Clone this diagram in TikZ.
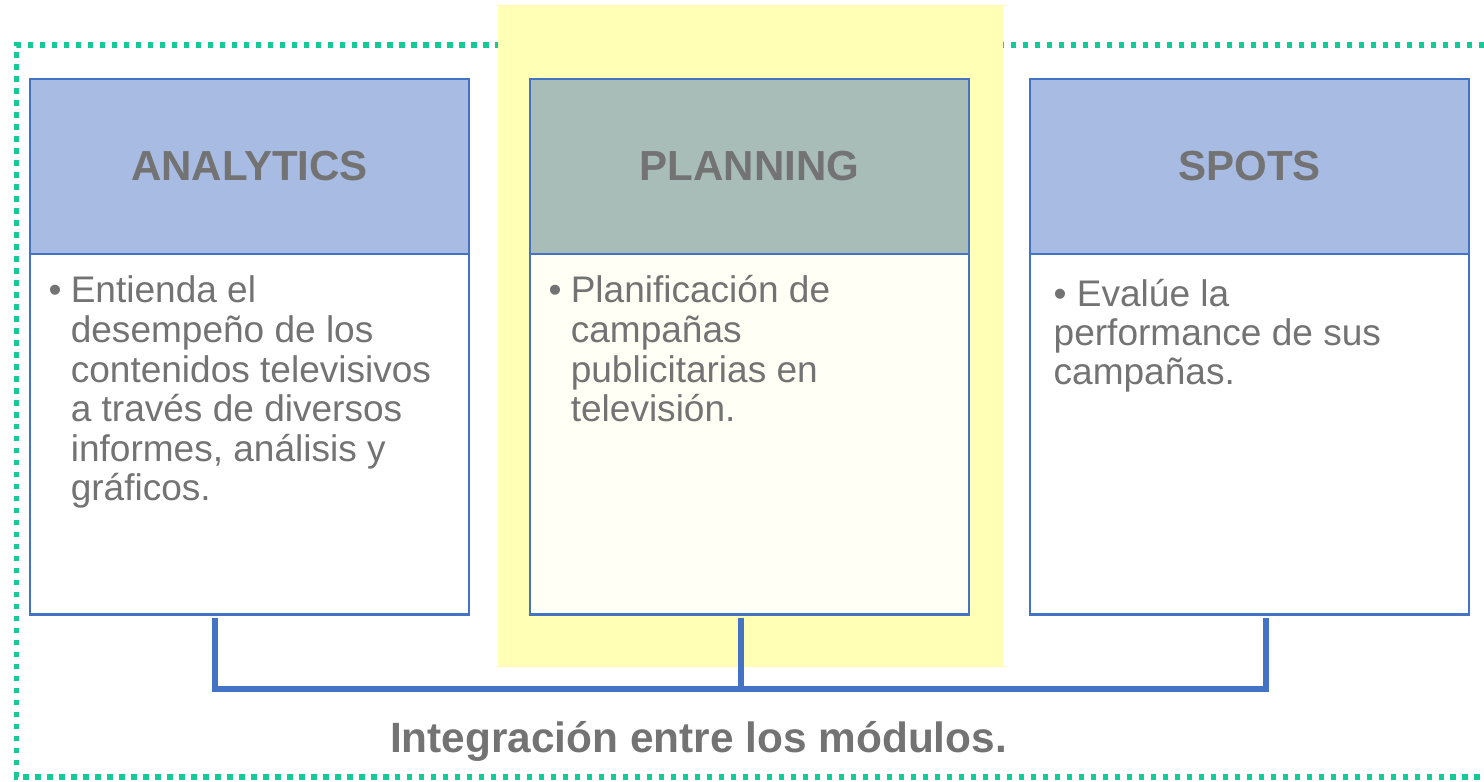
\documentclass[tikz,border=0pt]{standalone}
\usepackage{fontspec}
\setmainfont{Liberation Sans}
\usetikzlibrary{positioning}
\definecolor{hdrblue}{RGB}{168,187,226}
\definecolor{hdrgrey}{RGB}{168,188,184}
\definecolor{edgeblue}{RGB}{68,114,196}
\definecolor{dotgreen}{RGB}{22,201,151}
\definecolor{markyellow}{RGB}{255,255,181}
\definecolor{paleyellow}{RGB}{255,255,246}
\definecolor{txtgrey}{RGB}{115,115,115}
\begin{document}
\begin{tikzpicture}[x=0.01cm,y=-0.01cm,
    header/.style={draw=edgeblue, line width=0.75pt, fill=hdrblue, outer sep=0pt, inner sep=0pt,
      minimum width=4.39cm, minimum height=1.75cm, text=txtgrey,
      font=\fontsize{11.95pt}{14pt}\selectfont\bfseries},
    panel/.style={draw=edgeblue, line width=0.75pt, fill=white, outer sep=0pt, inner sep=0pt,
      minimum width=4.39cm, minimum height=3.6cm},
    bullets/.style={text=txtgrey, inner sep=0pt, anchor=base west,
      font=\fontsize{10.53pt}{11.24pt}\selectfont},
    bracket/.style={draw=edgeblue, line width=1.56pt}]
  \useasboundingbox (0,0) rectangle (1484,782);

  \draw[dotgreen, line width=1.5pt, dash pattern=on 1.5pt off 1.91pt]
    (1484,45) -- (16.5,45) -- (16.5,777) -- (1484,777);
  \fill[markyellow] (498,5) rectangle (1003,667);

  \node[header] (anaHead) at (249.5,166.5) {ANALYTICS};
  \node[panel, below=0pt of anaHead] (anaBody) {};
  \node[header, fill=hdrgrey] (plaHead) at (749.5,166.5) {PLANNING};
  \node[panel, fill=paleyellow, below=0pt of plaHead] (plaBody) {};
  \node[header] (spoHead) at (1249.5,166.5) {SPOTS};
  \node[panel, below=0pt of spoHead] (spoBody) {};

  \node[bullets] (anaText) at (48,303) {\begin{tabular}[t]{@{}l@{\hspace{2.6pt}}l@{}}
    • & Entienda el\\
      & desempeño de los\\
      & contenidos televisivos\\
      & a través de diversos\\
      & informes, análisis y\\
      & gráficos.
    \end{tabular}};
  \node[bullets] (plaText) at (548,303) {\begin{tabular}[t]{@{}l@{\hspace{2.6pt}}l@{}}
    • & Planificación de\\
      & campañas\\
      & publicitarias en\\
      & televisión.
    \end{tabular}};
  \node[bullets, font=\fontsize{10.53pt}{10.95pt}\selectfont] (spoText) at (1053,307) {\begin{tabular}[t]{@{}l@{}}
    •~Evalúe la\\
    performance de sus\\
    campañas.
    \end{tabular}};

  \coordinate (legA) at (215,618);
  \coordinate (legB) at (741,618);
  \coordinate (legC) at (1266,618);
  \coordinate (footA) at (215,689);
  \coordinate (footC) at (1266,689);
  \draw[bracket] (legA) -- (footA) -- (footC) -- (legC);
  \draw[bracket] (legB) -- (legB |- footA);

  \node[text=txtgrey, font=\fontsize{12.05pt}{14pt}\selectfont\bfseries, anchor=base]
    (footer) at (698.5,752) {Integración entre los módulos.};
\end{tikzpicture}
\end{document}
